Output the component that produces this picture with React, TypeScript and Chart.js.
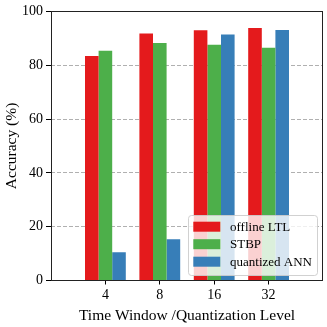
import React, { useEffect, useRef } from "react";
import { Chart, registerables } from "chart.js";

Chart.register(...registerables);

const categories = ["", "4", "8", "16", "32", ""];
const seriesNames = ["offline LTL", "STBP", "quantized ANN"];
const offlineLTL = [null, 83.4, 91.8, 93.0, 93.8, null];
const stbp = [null, 85.4, 88.3, 87.6, 86.5, null];
const quantizedANN = [null, 10.5, 15.3, 91.4, 93.1, null];
const seriesColors = ["#e41a1c", "#4daf4a", "#377eb8"];
const yTicks = [0, 20, 40, 60, 80, 100];

const FONT = '"Liberation Serif", "Times New Roman", serif';

const framePlugin = {
  id: "frame",
  afterDraw(chart: any) {
    const { ctx, chartArea } = chart;
    ctx.save();
    ctx.strokeStyle = "#222";
    ctx.lineWidth = 1;
    const l = Math.round(chartArea.left) + 0.5;
    const t = Math.round(chartArea.top) + 0.5;
    const r = Math.round(chartArea.right) - 0.5;
    const b = Math.round(chartArea.bottom) - 0.5;
    ctx.strokeRect(l, t, r - l, b - t);
    ctx.restore();
  },
};

const legendPlugin = {
  id: "innerLegend",
  afterDatasetsDraw(chart: any) {
    const { ctx, chartArea } = chart;
    ctx.save();
    const w = 129;
    const h = 60;
    const x = chartArea.right - 6 - w;
    const y = chartArea.bottom - 5.5 - h;
    ctx.beginPath();
    (ctx as any).roundRect(x + 0.5, y + 0.5, w, h, 3);
    ctx.fillStyle = "rgba(255,255,255,0.8)";
    ctx.fill();
    ctx.strokeStyle = "rgba(204,204,204,0.9)";
    ctx.lineWidth = 1;
    ctx.stroke();
    ctx.font = "13px " + FONT;
    ctx.textBaseline = "middle";
    ctx.textAlign = "left";
    chart.data.datasets.forEach((ds: any, i: number) => {
      const cy = y + 11.7 + i * 17.5;
      ctx.fillStyle = ds.backgroundColor;
      ctx.fillRect(x + 5.3, cy - 5, 27, 10);
      ctx.fillStyle = "#000";
      ctx.fillText(ds.label, x + 42, cy + 0.5);
    });
    ctx.restore();
  },
};

export default function App() {
  const ref = useRef<HTMLCanvasElement | null>(null);
  useEffect(() => {
    if (!ref.current) return;
    const values = [offlineLTL, stbp, quantizedANN];
    const chart = new Chart(ref.current, {
      type: "bar",
      data: {
        labels: categories,
        datasets: seriesNames.map((name, i) => ({
          label: name,
          data: values[i] as any,
          backgroundColor: seriesColors[i],
          borderWidth: 0,
          categoryPercentage: 0.75,
          barPercentage: 1.0,
        })),
      },
      options: {
        animation: false,
        responsive: false,
        layout: { padding: { left: 0, right: 4, top: 8, bottom: 0 } },
        plugins: { legend: { display: false }, tooltip: { enabled: false } },
        scales: {
          x: {
            type: "category",
            offset: false,
            grid: {
              offset: false,
              drawOnChartArea: false,
              drawTicks: true,
              tickLength: 4,
              tickColor: (c: any) =>
                c.index === 0 || c.index === categories.length - 1 ? "rgba(0,0,0,0)" : "#000",
            },
            border: { display: false },
            ticks: {
              color: "#000",
              font: { family: FONT, size: 14 },
              padding: 2,
              maxRotation: 0,
              autoSkip: false,
            },
            title: {
              display: true,
              text: "Time Window /Quantization Level",
              color: "#000",
              font: { family: FONT, size: 15.5 },
              padding: { top: 0, bottom: 2 },
            },
            afterFit: (s: any) => {
              s.height = 46.5;
            },
          },
          y: {
            min: 0,
            max: 100,
            afterBuildTicks: (s: any) => {
              s.ticks = yTicks.map((v) => ({ value: v }));
            },
            grid: {
              color: (c: any) =>
                c.tick && (c.tick.value === 0 || c.tick.value === 100) ? "rgba(0,0,0,0)" : "#b0b0b0",
              lineWidth: 1,
              tickLength: 5,
              tickColor: "#000",
              tickBorderDash: [],
            },
            border: { display: false, dash: [4, 2] },
            ticks: {
              color: "#000",
              font: { family: FONT, size: 14 },
              padding: 3,
            },
            title: {
              display: true,
              text: "Accuracy (%)",
              color: "#000",
              font: { family: FONT, size: 15.5 },
              padding: { top: 3, bottom: 0 },
            },
            afterFit: (s: any) => {
              s.width = 51;
            },
          },
        },
      },
      plugins: [legendPlugin, framePlugin],
    });
    return () => chart.destroy();
  }, []);
  return (
    <div style={{ position: "absolute", left: 0, top: 0, width: 327, height: 327, background: "#fff" }}>
      <canvas ref={ref} width={327} height={327} />
    </div>
  );
}
